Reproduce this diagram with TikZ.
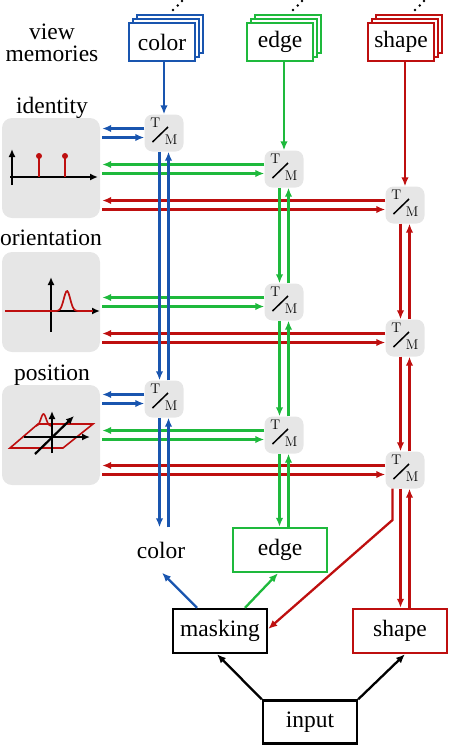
\documentclass[tikz,border=0pt]{standalone}
\usepackage{fontspec}
\newfontfamily\timesfont{Liberation Serif}
\usetikzlibrary{arrows.meta,calc}
\definecolor{cblue}{RGB}{25,85,175}
\definecolor{cgreen}{RGB}{30,185,60}
\definecolor{cred}{RGB}{190,15,15}
\definecolor{pgray}{RGB}{230,230,230}
\tikzset{
  lbl/.style={font=\timesfont\fontsize{23.5}{23.5}\selectfont, inner sep=0pt},
  membox/.style={draw, line width=2.4pt, fill=white, minimum width=66pt, minimum height=38pt, inner sep=0pt, font=\timesfont\fontsize{23.5}{23.5}\selectfont},
  backbox/.style={draw, line width=2.4pt, fill=white},
  tmnode/.style={fill=pgray, rounded corners=8pt, minimum width=39pt, minimum height=37pt, inner sep=0pt,
    text height=14.5pt, text depth=8.94pt, font=\fontsize{14}{14}\selectfont,
    path picture={\draw[line width=1.5pt] ($(path picture bounding box.center)+(-11.5,9)$) -- ($(path picture bounding box.center)+(4,-6)$);}},
  panel/.style={fill=pgray, rounded corners=10pt, minimum width=98pt, minimum height=100pt, inner sep=0pt},
  conn/.style={line width=2.3pt, -{Latex[length=9pt,width=7.5pt]}},
  flowbox/.style={draw, line width=2.4pt, minimum width=94pt, minimum height=44pt, inner sep=0pt, font=\timesfont\fontsize{23.5}{23.5}\selectfont},
  axis/.style={line width=2.2pt, -{Latex[length=8pt,width=7pt]}},
  dotc/.style={fill=black},
}
\newcommand{\tmtext}{\raisebox{8.5pt}{T}\kern4.55pt\raisebox{-8.5pt}{M}}
\begin{document}
\begin{tikzpicture}[x=1pt,y=-1pt]
\useasboundingbox (0,0) rectangle (448,745);

% labels
\node[lbl, anchor=base] (viewlbl) at (52,39) {view};
\node[lbl, anchor=base] (memlbl) at (52,61.7) {memories};
\node[lbl, anchor=base] (idlbl) at (52,113) {identity};
\node[lbl, anchor=base] (orlbl) at (51,245) {orientation};
\node[lbl, anchor=base] (poslbl) at (52,380) {position};

% view memory stacks
\foreach \cx/\cc in {162/cblue,280/cgreen,401/cred}{
  \draw[backbox, draw=\cc] (\cx-33+8,23-8) rectangle (\cx+33+8,61-8);
  \draw[backbox, draw=\cc] (\cx-33+4,23-4) rectangle (\cx+33+4,61-4);
}
\node[membox, draw=cblue] (colormem) at (162,42) {color};
\node[membox, draw=cgreen] (edgemem) at (280,42) {edge};
\node[membox, draw=cred] (shapemem) at (401,42) {shape};

% dots
\foreach \dx in {173,293,415}{
  \fill[dotc] (\dx,10) circle[radius=1.4pt];
  \fill[dotc] (\dx+4.7,5.5) circle[radius=1.4pt];
  \fill[dotc] (\dx+9,1) circle[radius=1.4pt];
}

% panels
\node[panel] (idp) at (51,168) {};
\node[panel] (orp) at (51,302) {};
\node[panel] (posp) at (51,435) {};

% identity illustration
\draw[axis] (12,185) -- (12,149);
\draw[axis] (10,177) -- (98,177);
\draw[cred, line width=1.7pt] (39,177) -- (39,157);
\draw[cred, line width=1.7pt] (65,177) -- (65,157);
\fill[cred] (39,156) circle[radius=3pt];
\fill[cred] (65,156) circle[radius=3pt];

% orientation illustration
\draw[axis] (51,332) -- (51,277);
\draw[axis] (5,311) -- (100,311);
\draw[cred, line width=1.7pt, domain=5:93, samples=90, smooth] plot (\x,{311-20*exp(-((\x-67)^2)/(2*3.2^2))});

% position illustration
\draw[cred, line width=1.6pt] (10,448) -- (63,448) -- (93,424) -- (38,424) -- cycle;
\draw[cred, line width=1.6pt, domain=36:52, samples=40, smooth] plot (\x,{426-12*exp(-((\x-43.5)^2)/(2*2.6^2))});
\draw[axis] (24,437) -- (90,437);
\draw[axis] (52,453) -- (52,411);
\draw[axis] (35,454) -- (74,416);

% T/M nodes
\node[tmnode] (c1) at (164,133) {\tmtext};
\node[tmnode] (c2) at (164,399) {\tmtext};
\node[tmnode] (e1) at (284,169) {\tmtext};
\node[tmnode] (e2) at (284,302) {\tmtext};
\node[tmnode] (e3) at (284,435) {\tmtext};
\node[tmnode] (s1) at (405,205) {\tmtext};
\node[tmnode] (s2) at (405,338) {\tmtext};
\node[tmnode] (s3) at (405,470) {\tmtext};

% bottom boxes
\node[lbl, minimum width=94pt, minimum height=45pt] (colorout) at (161,550) {color};
\node[flowbox, draw=cgreen] (edgebox) at (280,550) {edge};
\node[flowbox, draw=black] (maskbox) at (220,631) {masking};
\node[flowbox, draw=cred] (shapebox) at (400,631) {shape};
\node[flowbox, draw=black, minimum height=43pt] (inputbox) at (310,722) {input};
\coordinate (mk) at (392.5,520);

% memories to first T/M
\draw[conn, cblue] (c1.north |- colormem.south) -- (c1.north);
\draw[conn, cgreen] (e1.north |- edgemem.south) -- (e1.north);
\draw[conn, cred] (s1.north |- shapemem.south) -- (s1.north);

% horizontal pairs
\foreach \t/\p/\cc in {c1/idp/cblue, e1/idp/cgreen, s1/idp/cred, e2/orp/cgreen, s2/orp/cred, c2/posp/cblue, e3/posp/cgreen, s3/posp/cred}{
  \draw[conn, \cc, shorten >=2pt] ([yshift=4.5pt]\t.west) -- ([yshift=4.5pt]\t.west -| \p.east);
  \draw[conn, \cc, shorten <=2pt] ([yshift=-4.5pt]\t.west -| \p.east) -- ([yshift=-4.5pt]\t.west);
}

% vertical pairs
\foreach \a/\b/\cc in {c1/c2/cblue, e1/e2/cgreen, e2/e3/cgreen, s1/s2/cred, s2/s3/cred}{
  \draw[conn, \cc] ([xshift=-4.5pt]\a.south) -- ([xshift=-4.5pt]\b.north);
  \draw[conn, \cc] ([xshift=4.5pt]\b.north) -- ([xshift=4.5pt]\a.south);
}

% to outputs
\draw[conn, cblue] ([xshift=-4.5pt]c2.south) -- ([xshift=-4.5pt]c2.south |- colorout.north);
\draw[conn, cblue] ([xshift=4.5pt]c2.south |- colorout.north) -- ([xshift=4.5pt]c2.south);
\draw[conn, cgreen] ([xshift=-4.5pt]e3.south) -- ([xshift=-4.5pt]e3.south |- edgebox.north);
\draw[conn, cgreen] ([xshift=4.5pt]e3.south |- edgebox.north) -- ([xshift=4.5pt]e3.south);
\draw[conn, cred] ([xshift=-4.5pt]s3.south) -- ([xshift=-4.5pt]s3.south |- shapebox.north);
\draw[conn, cred] ([xshift=4.5pt]s3.south |- shapebox.north) -- ([xshift=4.5pt]s3.south);
\draw[conn, cred] (mk |- s3.south) -- (mk) -- ([yshift=2pt]maskbox.east);

% masking outputs
\draw[conn, cblue] ([xshift=-23pt]maskbox.north) -- ([xshift=1pt]colorout.south);
\draw[conn, cgreen] ([xshift=25pt]maskbox.north) -- ([xshift=-2pt]edgebox.south);

% input
\draw[conn, black] (inputbox.north west) -- ([xshift=-3pt]maskbox.south);
\draw[conn, black] (inputbox.north east) -- ([xshift=5pt]shapebox.south);
\end{tikzpicture}
\end{document}
